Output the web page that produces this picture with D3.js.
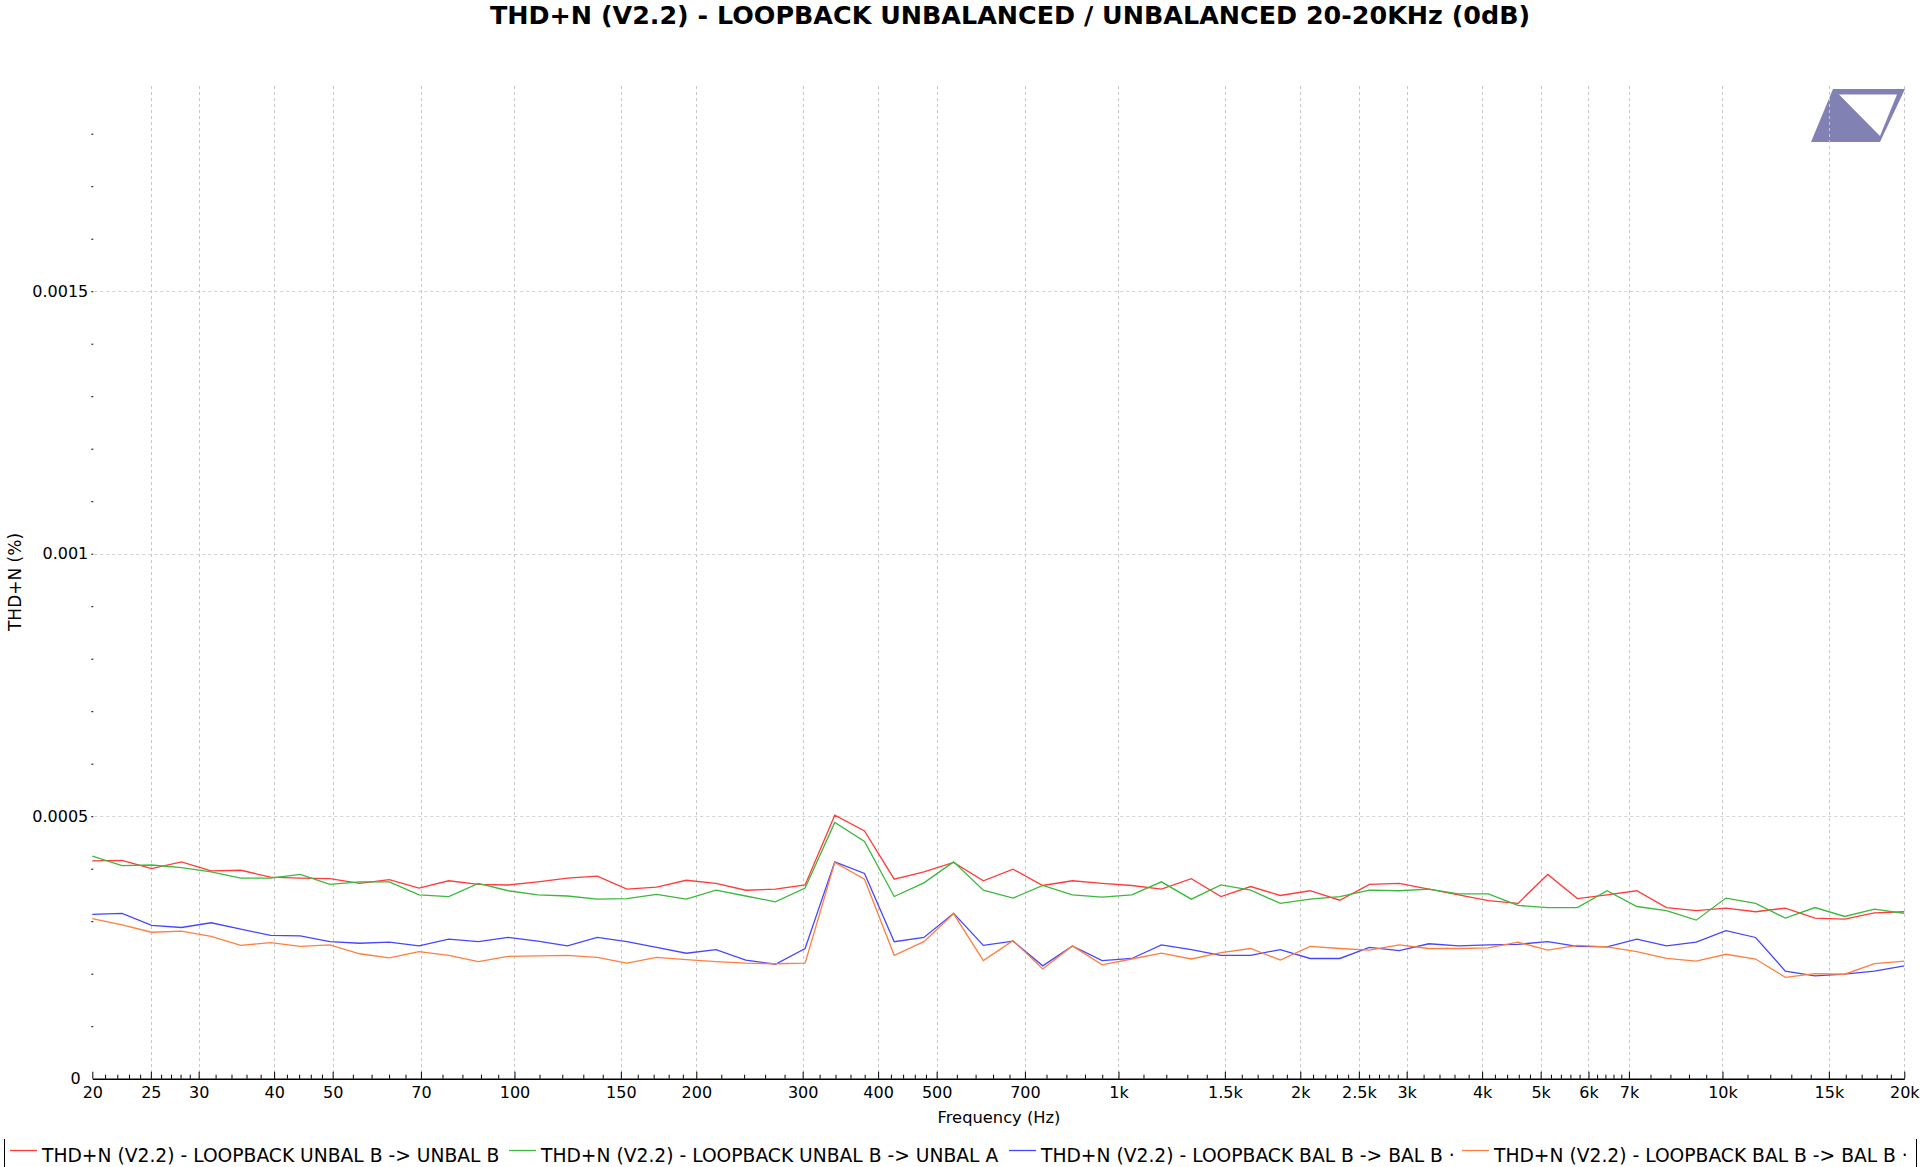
<!DOCTYPE html>
<html><head><meta charset="utf-8">
<script src="https://cdn.jsdelivr.net/npm/d3@7"></script>
<style>
body{margin:0;background:#fff;}
svg{display:block;}
text{font-family:'DejaVu Sans','Verdana',sans-serif;fill:#000;}
</style>
</head><body>
<script>
// ---------- DATA ----------
const frequencies = [20, 22.40, 25.08, 28.09, 31.46, 35.23, 39.45, 44.18, 49.48, 55.41,
  62.05, 69.49, 77.82, 87.15, 97.60, 109.3, 122.4, 137.1, 153.5, 171.9,
  192.5, 215.6, 241.5, 270.4, 302.8, 339.1, 379.8, 425.3, 476.3, 533.4,
  597.4, 669.0, 749.2, 839.0, 939.6, 1052, 1178, 1320, 1478, 1655,
  1853, 2076, 2325, 2603, 2916, 3265, 3657, 4095, 4586, 5136,
  5752, 6441, 7213, 8078, 9047, 10131, 11346, 12706, 14229, 15935,
  17845, 20000];

const unbalBtoUnbalB = [4.15e-4,4.16e-4,4.00e-4,4.13e-4,3.96e-4,3.97e-4,3.84e-4,3.82e-4,3.81e-4,3.72e-4,
  3.79e-4,3.63e-4,3.77e-4,3.70e-4,3.69e-4,3.75e-4,3.82e-4,3.86e-4,3.61e-4,3.65e-4,
  3.78e-4,3.72e-4,3.59e-4,3.61e-4,3.69e-4,5.02e-4,4.72e-4,3.80e-4,3.94e-4,4.12e-4,
  3.77e-4,3.99e-4,3.68e-4,3.77e-4,3.72e-4,3.68e-4,3.61e-4,3.81e-4,3.47e-4,3.66e-4,
  3.49e-4,3.58e-4,3.40e-4,3.70e-4,3.72e-4,3.61e-4,3.50e-4,3.39e-4,3.34e-4,3.89e-4,
  3.43e-4,3.50e-4,3.58e-4,3.26e-4,3.20e-4,3.25e-4,3.18e-4,3.25e-4,3.06e-4,3.04e-4,
  3.16e-4,3.18e-4];

const unbalBtoUnbalA = [4.24e-4,4.06e-4,4.07e-4,4.02e-4,3.94e-4,3.82e-4,3.82e-4,3.89e-4,3.70e-4,3.75e-4,
  3.75e-4,3.50e-4,3.47e-4,3.72e-4,3.58e-4,3.50e-4,3.48e-4,3.42e-4,3.43e-4,3.51e-4,
  3.42e-4,3.59e-4,3.48e-4,3.37e-4,3.63e-4,4.88e-4,4.52e-4,3.47e-4,3.73e-4,4.13e-4,
  3.59e-4,3.44e-4,3.68e-4,3.50e-4,3.46e-4,3.50e-4,3.75e-4,3.42e-4,3.69e-4,3.59e-4,
  3.34e-4,3.42e-4,3.47e-4,3.59e-4,3.58e-4,3.61e-4,3.52e-4,3.52e-4,3.30e-4,3.26e-4,
  3.26e-4,3.58e-4,3.28e-4,3.20e-4,3.02e-4,3.44e-4,3.34e-4,3.06e-4,3.26e-4,3.09e-4,
  3.23e-4,3.15e-4];

const balBtoBalB1 = [3.13e-4,3.15e-4,2.92e-4,2.88e-4,2.97e-4,2.85e-4,2.73e-4,2.72e-4,2.61e-4,2.58e-4,
  2.60e-4,2.53e-4,2.66e-4,2.61e-4,2.69e-4,2.62e-4,2.53e-4,2.69e-4,2.61e-4,2.50e-4,
  2.39e-4,2.46e-4,2.26e-4,2.18e-4,2.48e-4,4.13e-4,3.91e-4,2.61e-4,2.69e-4,3.15e-4,
  2.54e-4,2.62e-4,2.15e-4,2.53e-4,2.25e-4,2.29e-4,2.55e-4,2.46e-4,2.35e-4,2.35e-4,
  2.46e-4,2.29e-4,2.29e-4,2.50e-4,2.44e-4,2.57e-4,2.53e-4,2.55e-4,2.56e-4,2.61e-4,
  2.52e-4,2.51e-4,2.66e-4,2.53e-4,2.60e-4,2.82e-4,2.69e-4,2.05e-4,1.96e-4,1.99e-4,
  2.05e-4,2.15e-4];

const balBtoBalB2 = [3.05e-4,2.93e-4,2.79e-4,2.81e-4,2.71e-4,2.54e-4,2.59e-4,2.52e-4,2.55e-4,2.38e-4,
  2.30e-4,2.42e-4,2.35e-4,2.23e-4,2.33e-4,2.34e-4,2.35e-4,2.31e-4,2.20e-4,2.31e-4,
  2.27e-4,2.23e-4,2.20e-4,2.19e-4,2.20e-4,4.12e-4,3.80e-4,2.35e-4,2.61e-4,3.14e-4,
  2.25e-4,2.63e-4,2.09e-4,2.53e-4,2.17e-4,2.28e-4,2.39e-4,2.28e-4,2.40e-4,2.48e-4,
  2.26e-4,2.52e-4,2.48e-4,2.45e-4,2.55e-4,2.48e-4,2.48e-4,2.49e-4,2.60e-4,2.45e-4,
  2.54e-4,2.51e-4,2.42e-4,2.29e-4,2.24e-4,2.37e-4,2.28e-4,1.93e-4,2.00e-4,1.99e-4,
  2.19e-4,2.24e-4];

const seriesNames = [
  "THD+N (V2.2) - LOOPBACK UNBAL B -> UNBAL B",
  "THD+N (V2.2) - LOOPBACK UNBAL B -> UNBAL A",
  "THD+N (V2.2) - LOOPBACK BAL B -> BAL B \u00b7",
  "THD+N (V2.2) - LOOPBACK BAL B -> BAL B \u00b7"
];
const seriesColors = ["#ff3b3b", "#3cb83c", "#4646ff", "#ff7f40"];

const xTickValues = [20,25,30,40,50,70,100,150,200,300,400,500,700,1000,1500,2000,2500,3000,4000,5000,6000,7000,10000,15000,20000];
const xTickLabels = ["20","25","30","40","50","70","100","150","200","300","400","500","700","1k","1.5k","2k","2.5k","3k","4k","5k","6k","7k","10k","15k","20k"];
const yTickValues = [0, 0.0005, 0.001, 0.0015];
const yTickLabels = ["0", "0.0005", "0.001", "0.0015"];
const yMinorStep = 0.0001;

const titleText = "THD+N (V2.2) - LOOPBACK UNBALANCED / UNBALANCED 20-20KHz (0dB)";
const xTitle = "Frequency (Hz)";
const yTitle = "THD+N (%)";

// ---------- LAYOUT ----------
const W = 1920, H = 1167;
const L = 92.3, R = 1904.3, B = 1078.7, T = 86;

const svg = d3.select("body").append("svg").attr("width", W).attr("height", H);

const x = d3.scaleLog().domain([20, 20000]).range([L, R]);
const y = d3.scaleLinear().domain([0, (B - T) / 525000]).range([B, T]);

// logo
const logo = svg.append("g");
logo.append("path").attr("d", "M1833,89 L1905,89 L1880,142 L1811,142 Z").attr("fill", "#8181b3");
logo.append("path").attr("d", "M1839,94.5 L1897,94.5 L1880,136 Z").attr("fill", "#fff");

// grid
const grid = svg.append("g");
grid.selectAll("line.v").data(xTickValues.filter(v => v !== 20)).join("line")
  .attr("x1", d => Math.round(x(d)) + 0.5).attr("x2", d => Math.round(x(d)) + 0.5)
  .attr("y1", T).attr("y2", B)
  .attr("stroke", "#c8c8c8").attr("stroke-width", 1).attr("stroke-dasharray", "3,3");
grid.selectAll("line.h").data(yTickValues.filter(v => v !== 0)).join("line")
  .attr("x1", L + 2).attr("x2", R)
  .attr("y1", d => Math.round(y(d)) + 0.5).attr("y2", d => Math.round(y(d)) + 0.5)
  .attr("stroke", "#d2d2d2").attr("stroke-width", 1).attr("stroke-dasharray", "3,3");

// minor x ticks (5 subdivisions between labelled ticks)
const xMinor = [];
for (let i = 0; i < xTickValues.length - 1; i++) {
  const a = xTickValues[i], b = xTickValues[i + 1];
  for (let j = 1; j < 5; j++) xMinor.push(a + (b - a) * j / 5);
}
const gxMinor = svg.append("g").attr("transform", `translate(0,${B})`)
  .call(d3.axisBottom(x).tickValues(xMinor).tickSize(-4).tickFormat(""));
gxMinor.select(".domain").remove();

const gx = svg.append("g").attr("transform", `translate(0,${B})`)
  .call(d3.axisBottom(x).tickValues(xTickValues).tickSizeInner(-7).tickSizeOuter(0).tickPadding(8)
    .tickFormat((d, i) => xTickLabels[i]));
gx.select(".domain").attr("stroke", "#000").attr("stroke-width", 1.6);
svg.selectAll("g.tick line").attr("stroke", "#000");
gx.selectAll("text").attr("font-size", 16).attr("font-family", "'DejaVu Sans', sans-serif");

// y minor ticks
const yMinor = d3.range(1, 19).map(i => i * yMinorStep);
const gyMinor = svg.append("g").attr("transform", `translate(${L + 1},0)`)
  .call(d3.axisLeft(y).tickValues(yMinor).tickSize(2).tickFormat(""));
gyMinor.select(".domain").remove();
gyMinor.selectAll("line").attr("stroke", "#000");

const gy = svg.append("g").attr("transform", `translate(${L},0)`)
  .call(d3.axisLeft(y).tickValues(yTickValues).tickSize(0).tickPadding(4)
    .tickFormat((d, i) => yTickLabels[i]));
gy.select(".domain").remove();
gy.selectAll("text").attr("font-size", 16).attr("font-family", "'DejaVu Sans', sans-serif");
// keep the "0" label clear of the "20" frequency label
gy.selectAll("g.tick").filter(d => d === 0).select("text").attr("x", -11.5);

// series
const allSeries = [unbalBtoUnbalB, unbalBtoUnbalA, balBtoBalB1, balBtoBalB2];
const line = d3.line().x(d => x(d[0])).y(d => y(d[1]));
svg.append("g").selectAll("path").data(allSeries).join("path")
  .attr("d", s => line(frequencies.map((f, i) => [f, s[i]])))
  .attr("fill", "none")
  .attr("stroke", (s, i) => seriesColors[i])
  .attr("stroke-width", 1.3);

// titles
svg.append("text").attr("x", 1010).attr("y", 24).attr("text-anchor", "middle")
  .attr("font-size", 25.4).attr("font-weight", "bold").text(titleText);
svg.append("text").attr("x", 999).attr("y", 1123).attr("text-anchor", "middle")
  .attr("font-size", 16.3).text(xTitle);
svg.append("text").attr("transform", "translate(21,582) rotate(-90)").attr("text-anchor", "middle")
  .attr("font-size", 17).text(yTitle);

// legend
const legendX = [10, 509, 1009, 1462];
const lg = svg.append("g");
lg.append("line").attr("x1", 4.5).attr("x2", 4.5).attr("y1", 1139).attr("y2", 1167).attr("stroke", "#000");
lg.append("line").attr("x1", 1916.5).attr("x2", 1916.5).attr("y1", 1139).attr("y2", 1167).attr("stroke", "#000");
seriesNames.forEach((n, i) => {
  const g = lg.append("g").attr("transform", `translate(${legendX[i]},0)`);
  g.append("line").attr("x1", 0).attr("x2", 27).attr("y1", 1150.5).attr("y2", 1150.5)
    .attr("stroke", seriesColors[i]).attr("stroke-width", 1.3);
  g.append("text").attr("x", 32).attr("y", 1162).attr("font-size", 18.7).text(n);
});
</script>
</body></html>
